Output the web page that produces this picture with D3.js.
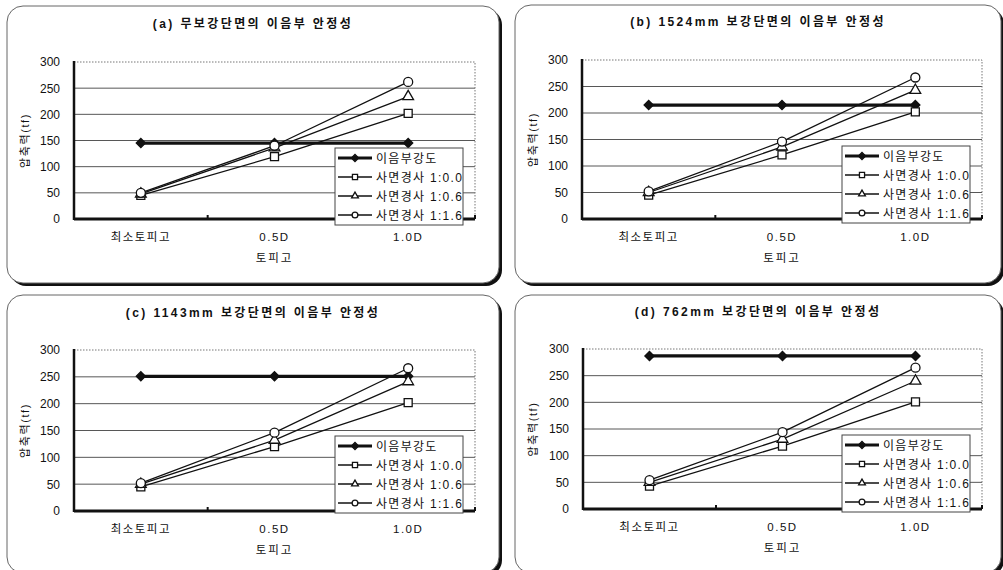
<!DOCTYPE html>
<html>
<head>
<meta charset="utf-8">
<script src="https://cdn.jsdelivr.net/npm/d3@7"></script>
<style>
  body { margin: 0; background: #fff; }
  text { font-family: "Liberation Sans", "Noto Sans CJK KR", sans-serif; fill: #111; }
  .title { font-weight: bold; font-size: 12px; letter-spacing: 2.4px; }
  .tick-label { font-size: 12px; }
  .cat-label { font-size: 11.5px; letter-spacing: 1.5px; }
  .axis-title { font-size: 11.5px; letter-spacing: 2px; }
  .y-title { font-size: 11px; letter-spacing: 1.6px; }
  .legend-label { font-size: 12px; letter-spacing: 1.3px; }
</style>
</head>
<body>
<div id="chart"></div>
<script>
// Joint stability charts (four panels)

const categories = ["최소토피고", "0.5D", "1.0D"];
const seriesNames = ["이음부강도", "사면경사 1:0.0", "사면경사 1:0.6", "사면경사 1:1.6"];
const yTicks = [0, 50, 100, 150, 200, 250, 300];
const titles = [
    "(a) 무보강단면의 이음부 안정성",
    "(b) 1524mm 보강단면의 이음부 안정성",
    "(c) 1143mm 보강단면의 이음부 안정성",
    "(d) 762mm 보강단면의 이음부 안정성"
];

// series order: 이음부강도, 1:0.0, 1:0.6, 1:1.6
const panelA = [[145, 145, 145], [45, 119, 202], [48, 136, 234], [50, 140, 262]];
const panelB = [[215, 215, 215], [45, 121, 202], [50, 136, 243], [52, 146, 267]];
const panelC = [[251, 251, 251], [45, 120, 202], [50, 132, 241], [52, 146, 266]];
const panelD = [[287, 287, 287], [43, 118, 201], [50, 131, 240], [54, 144, 265]];

const width = 1003, height = 570;

const svg = d3.select("#chart")
    .append("svg")
    .attr("width", width)
    .attr("height", height);

// panel layout: frame box and plot box
const layouts = [
    { data: panelA, fx: 7, fy: 6, fw: 492, fh: 277, px: 74, py: 62, pw: 401, ph: 157, ty: 28 },
    { data: panelB, fx: 515, fy: 5, fw: 486, fh: 278, px: 582, py: 60, pw: 400, ph: 159, ty: 26 },
    { data: panelC, fx: 7, fy: 295, fw: 492, fh: 278, px: 74, py: 350, pw: 401, ph: 161, ty: 317 },
    { data: panelD, fx: 515, fy: 295, fw: 486, fh: 278, px: 583, py: 349, pw: 399, ph: 160, ty: 316 }
];

// diamond is a square turned by 45 degrees
const symbols = [d3.symbolSquare, d3.symbolSquare, d3.symbolTriangle, d3.symbolCircle];
const rotations = [45, 0, 0, 0];
const markSizes = [42, 64, 50, 64];
const legendSizes = [26, 26, 20, 26];

function drawPanel(cfg, title) {
    const g = svg.append("g");

    // frame with heavy right/bottom edge
    g.append("rect")
        .attr("x", cfg.fx + 3).attr("y", cfg.fy + 3)
        .attr("width", cfg.fw).attr("height", cfg.fh)
        .attr("rx", 16)
        .attr("fill", "#111");
    g.append("rect")
        .attr("x", cfg.fx).attr("y", cfg.fy)
        .attr("width", cfg.fw).attr("height", cfg.fh)
        .attr("rx", 16)
        .attr("fill", "#fff")
        .attr("stroke", "#666")
        .attr("stroke-width", 1);

    g.append("text")
        .attr("class", "title")
        .attr("x", cfg.fx + cfg.fw / 2)
        .attr("y", cfg.ty)
        .attr("text-anchor", "middle")
        .text(title);

    const inner = g.append("g")
        .attr("transform", `translate(${cfg.px}, ${cfg.py})`);

    const xScale = d3.scaleBand()
        .domain(categories)
        .range([0, cfg.pw]);

    const yScale = d3.scaleLinear()
        .domain([0, 300])
        .range([cfg.ph, 0]);

    // gridlines
    inner.selectAll(".grid")
        .data(yTicks.filter(d => d > 0 && d < 300))
        .join("line")
        .attr("x1", 0).attr("x2", cfg.pw)
        .attr("y1", d => yScale(d)).attr("y2", d => yScale(d))
        .attr("stroke", "#444")
        .attr("stroke-width", 0.9);

    // dotted top and right border
    inner.append("path")
        .attr("d", `M0,${yScale(300)}H${cfg.pw}V${cfg.ph}`)
        .attr("fill", "none")
        .attr("stroke", "#777")
        .attr("stroke-width", 1)
        .attr("stroke-dasharray", "1.5,1.5");

    // y axis labels
    const yAxis = inner.append("g")
        .call(d3.axisLeft(yScale).tickValues(yTicks).tickSize(0).tickPadding(14));
    yAxis.select(".domain").remove();
    yAxis.selectAll("text")
        .attr("class", "tick-label")
        .attr("font-family", null)
        .attr("font-size", null);

    // x axis labels
    const xAxis = inner.append("g")
        .attr("transform", `translate(0, ${cfg.ph})`)
        .call(d3.axisBottom(xScale).tickSize(0).tickPadding(14));
    xAxis.select(".domain").remove();
    xAxis.selectAll("text")
        .attr("class", "cat-label")
        .attr("font-family", null)
        .attr("font-size", null);

    // small ticks at band boundaries
    inner.selectAll(".band-tick")
        .data(categories.slice(1).concat(["end"]))
        .join("line")
        .attr("x1", (d, i) => i < 2 ? xScale(d) : cfg.pw)
        .attr("x2", (d, i) => i < 2 ? xScale(d) : cfg.pw)
        .attr("y1", cfg.ph - 4).attr("y2", cfg.ph)
        .attr("stroke", "#111")
        .attr("stroke-width", 2);

    // heavy axis lines
    inner.append("line")
        .attr("x1", 0).attr("x2", 0)
        .attr("y1", -1).attr("y2", cfg.ph + 1)
        .attr("stroke", "#111").attr("stroke-width", 2.5);
    inner.append("line")
        .attr("x1", 0).attr("x2", cfg.pw)
        .attr("y1", cfg.ph).attr("y2", cfg.ph)
        .attr("stroke", "#111").attr("stroke-width", 3);

    // axis titles
    inner.append("text")
        .attr("class", "axis-title")
        .attr("x", cfg.pw / 2)
        .attr("y", cfg.ph + 43)
        .attr("text-anchor", "middle")
        .text("토피고");

    inner.append("text")
        .attr("class", "y-title")
        .attr("transform", "rotate(-90)")
        .attr("x", -cfg.ph / 2)
        .attr("y", cfg.fx - cfg.px + 22)
        .attr("text-anchor", "middle")
        .text("압축력(tf)");

    // series lines
    const line = d3.line()
        .x((d, i) => xScale(categories[i]) + xScale.bandwidth() / 2)
        .y(d => yScale(d));

    cfg.data.forEach((values, s) => {
        inner.append("path")
            .datum(values)
            .attr("d", line)
            .attr("fill", "none")
            .attr("stroke", "#111")
            .attr("stroke-width", s === 0 ? 3.2 : 1.3);
    });

    // markers
    cfg.data.forEach((values, s) => {
        inner.selectAll(`.mark-${s}`)
            .data(values)
            .join("path")
            .attr("class", `mark-${s}`)
            .attr("transform", (d, i) =>
                `translate(${xScale(categories[i]) + xScale.bandwidth() / 2}, ${yScale(d)}) rotate(${rotations[s]})`)
            .attr("d", d3.symbol().type(symbols[s]).size(markSizes[s]))
            .attr("fill", s === 0 ? "#111" : "#fff")
            .attr("stroke", "#111")
            .attr("stroke-width", 1.3);
    });

    // legend
    const legend = inner.append("g")
        .attr("transform", `translate(${cfg.pw - 140}, 86)`);
    legend.append("rect")
        .attr("width", 128).attr("height", 77)
        .attr("fill", "#fff")
        .attr("stroke", "#444")
        .attr("stroke-width", 1);

    const rows = legend.selectAll(".legend-row")
        .data(seriesNames)
        .join("g")
        .attr("class", "legend-row")
        .attr("transform", (d, i) => `translate(0, ${10 + i * 19})`);

    rows.append("line")
        .attr("x1", 3).attr("x2", 37)
        .attr("stroke", "#111")
        .attr("stroke-width", (d, i) => i === 0 ? 3 : 1.3);

    rows.append("path")
        .attr("transform", (d, i) => `translate(20, 0) rotate(${rotations[i]})`)
        .attr("d", (d, i) => d3.symbol().type(symbols[i]).size(legendSizes[i])())
        .attr("fill", (d, i) => i === 0 ? "#111" : "#fff")
        .attr("stroke", "#111")
        .attr("stroke-width", 1.3);

    rows.append("text")
        .attr("class", "legend-label")
        .attr("x", 41)
        .attr("y", 4.5)
        .text(d => d);
}

layouts.forEach((cfg, i) => drawPanel(cfg, titles[i]));
</script>
</body>
</html>
